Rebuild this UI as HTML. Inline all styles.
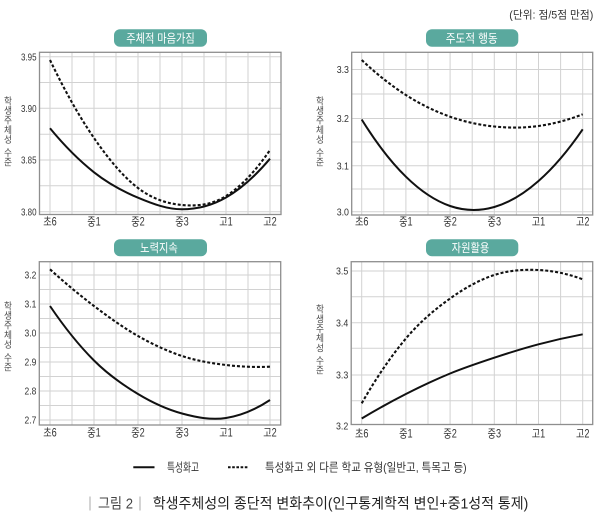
<!DOCTYPE html>
<html>
<head>
<meta charset="utf-8">
<style>
  html,body{margin:0;padding:0;background:#fff;}
  svg{display:block;}
  text{font-family:"Liberation Sans","Noto Sans CJK KR",sans-serif;}
</style>
</head>
<body>
<svg width="600" height="527" viewBox="0 0 600 527" xmlns="http://www.w3.org/2000/svg">
  <rect width="600" height="527" fill="#fff"/>

  <!-- unit -->
  <text x="509.3" y="18.5" font-size="11" fill="#333" textLength="84" lengthAdjust="spacingAndGlyphs">(단위: 점/5점 만점)</text>

  <!-- ============ PANEL 1 ============ -->
  <g stroke="#d2d2d2" stroke-width="1" fill="none">
    <path d="M40,56.7H281M40,82.5H281M40,108.3H281M40,134.2H281M40,160H281M40,185.8H281M40,211.7H281"/>
    <path d="M50,52.3V214.5M72,52.3V214.5M94,52.3V214.5M116,52.3V214.5M138,52.3V214.5M160,52.3V214.5M182,52.3V214.5M204,52.3V214.5M226,52.3V214.5M248,52.3V214.5M270,52.3V214.5"/>
  </g>
  <rect x="39.5" y="52.3" width="241.5" height="162.2" fill="none" stroke="#8e8e8e" stroke-width="1.3"/>
  <path d="M50,128.3 C64.67,146.07 79.33,160.73 94,172.3 C108.67,183.87 123.33,191.53 138,197.7 C152.67,203.87 167.33,209.33 182,209.3 C196.67,209.27 211.33,205.93 226,197.5 C240.67,189.07 255.33,176.13 270,158.7" fill="none" stroke="#111" stroke-width="2"/>
  <path d="M50,60 C64.67,90.67 79.33,116.67 94,138 C108.67,159.33 123.33,176.83 138,188 C152.67,199.17 167.33,203.67 182,205 C196.67,206.33 211.33,205.17 226,196 C240.67,186.83 255.33,171.5 270,150" fill="none" stroke="#111" stroke-width="2.1" stroke-dasharray="3 2"/>
  <g font-size="10.5" fill="#333">
    <text x="21" y="60.4" textLength="15.5" lengthAdjust="spacingAndGlyphs">3.95</text>
    <text x="21" y="112" textLength="15.5" lengthAdjust="spacingAndGlyphs">3.90</text>
    <text x="21" y="163.7" textLength="15.5" lengthAdjust="spacingAndGlyphs">3.85</text>
    <text x="21" y="215.4" textLength="15.5" lengthAdjust="spacingAndGlyphs">3.80</text>
  </g>
  <g font-size="11.5" fill="#333" text-anchor="middle">
    <text x="50" y="225.5" textLength="13.5" lengthAdjust="spacingAndGlyphs">초6</text>
    <text x="94" y="225.5" textLength="13.5" lengthAdjust="spacingAndGlyphs">중1</text>
    <text x="138" y="225.5" textLength="13.5" lengthAdjust="spacingAndGlyphs">중2</text>
    <text x="182" y="225.5" textLength="13.5" lengthAdjust="spacingAndGlyphs">중3</text>
    <text x="226" y="225.5" textLength="13.5" lengthAdjust="spacingAndGlyphs">고1</text>
    <text x="270" y="225.5" textLength="13.5" lengthAdjust="spacingAndGlyphs">고2</text>
  </g>
  <g font-size="9.8" fill="#4a4a4a" text-anchor="middle">
    <text x="8" y="104.3" textLength="8" lengthAdjust="spacingAndGlyphs">학</text>
    <text x="8" y="114" textLength="8" lengthAdjust="spacingAndGlyphs">생</text>
    <text x="8" y="123.7" textLength="8" lengthAdjust="spacingAndGlyphs">주</text>
    <text x="8" y="133.4" textLength="8" lengthAdjust="spacingAndGlyphs">체</text>
    <text x="8" y="143.1" textLength="8" lengthAdjust="spacingAndGlyphs">성</text>
    <text x="8" y="155.8" textLength="8" lengthAdjust="spacingAndGlyphs">수</text>
    <text x="8" y="165.3" textLength="8" lengthAdjust="spacingAndGlyphs">준</text>
  </g>
  <rect x="114" y="29.3" width="93" height="17.4" rx="6" fill="#5aa99e"/>
  <text x="160.5" y="42.4" font-size="12" fill="#fff" text-anchor="middle" textLength="68.5" lengthAdjust="spacingAndGlyphs">주체적 마음가짐</text>

  <!-- ============ PANEL 2 ============ -->
  <g stroke="#d2d2d2" stroke-width="1" fill="none">
    <path d="M352,69.5H592.7M352,94H592.7M352,118.5H592.7M352,142H592.7M352,165.7H592.7M352,189H592.7M352,211.7H592.7"/>
    <path d="M361.7,52.3V215M383.8,52.3V215M405.9,52.3V215M428,52.3V215M450.1,52.3V215M472.2,52.3V215M494.3,52.3V215M516.4,52.3V215M538.5,52.3V215M560.6,52.3V215M582.7,52.3V215"/>
  </g>
  <rect x="351.7" y="52.3" width="241" height="162.7" fill="none" stroke="#8e8e8e" stroke-width="1.3"/>
  <path d="M361.7,119.5 C376.43,143.22 391.17,162.28 405.9,176.7 C420.63,191.12 435.37,200.95 450.1,206 C464.83,211.05 479.57,211.17 494.3,207 C509.03,202.83 523.77,193.95 538.5,181 C553.23,168.05 567.97,150.82 582.7,129.3" fill="none" stroke="#111" stroke-width="2"/>
  <path d="M361.7,60 C376.43,73.88 391.17,85.55 405.9,95 C420.63,104.45 435.37,111.45 450.1,116.7 C464.83,121.95 479.57,124.95 494.3,126.5 C509.03,128.05 523.77,128.03 538.5,126 C553.23,123.97 567.97,120.07 582.7,114.3" fill="none" stroke="#111" stroke-width="2.1" stroke-dasharray="3 2"/>
  <g font-size="10.5" fill="#333">
    <text x="336.7" y="73.2" textLength="12.3" lengthAdjust="spacingAndGlyphs">3.3</text>
    <text x="336.7" y="122.2" textLength="12.3" lengthAdjust="spacingAndGlyphs">3.2</text>
    <text x="336.7" y="169.4" textLength="12.3" lengthAdjust="spacingAndGlyphs">3.1</text>
    <text x="336.7" y="215.4" textLength="12.3" lengthAdjust="spacingAndGlyphs">3.0</text>
  </g>
  <g font-size="11.5" fill="#333" text-anchor="middle">
    <text x="361.7" y="225.5" textLength="13.5" lengthAdjust="spacingAndGlyphs">초6</text>
    <text x="405.9" y="225.5" textLength="13.5" lengthAdjust="spacingAndGlyphs">중1</text>
    <text x="450.1" y="225.5" textLength="13.5" lengthAdjust="spacingAndGlyphs">중2</text>
    <text x="494.3" y="225.5" textLength="13.5" lengthAdjust="spacingAndGlyphs">중3</text>
    <text x="538.5" y="225.5" textLength="13.5" lengthAdjust="spacingAndGlyphs">고1</text>
    <text x="582.7" y="225.5" textLength="13.5" lengthAdjust="spacingAndGlyphs">고2</text>
  </g>
  <g font-size="9.8" fill="#4a4a4a" text-anchor="middle">
    <text x="320" y="104.3" textLength="8" lengthAdjust="spacingAndGlyphs">학</text>
    <text x="320" y="114" textLength="8" lengthAdjust="spacingAndGlyphs">생</text>
    <text x="320" y="123.7" textLength="8" lengthAdjust="spacingAndGlyphs">주</text>
    <text x="320" y="133.4" textLength="8" lengthAdjust="spacingAndGlyphs">체</text>
    <text x="320" y="143.1" textLength="8" lengthAdjust="spacingAndGlyphs">성</text>
    <text x="320" y="155.8" textLength="8" lengthAdjust="spacingAndGlyphs">수</text>
    <text x="320" y="165.3" textLength="8" lengthAdjust="spacingAndGlyphs">준</text>
  </g>
  <rect x="426" y="29.3" width="92.3" height="17.4" rx="6" fill="#5aa99e"/>
  <text x="471.7" y="42.4" font-size="12" fill="#fff" text-anchor="middle" textLength="52" lengthAdjust="spacingAndGlyphs">주도적 행동</text>

  <!-- ============ PANEL 3 ============ -->
  <g stroke="#d2d2d2" stroke-width="1" fill="none">
    <path d="M40,275H280.7M40,289.5H280.7M40,304H280.7M40,318.5H280.7M40,333H280.7M40,347.5H280.7M40,362H280.7M40,376.5H280.7M40,391H280.7M40,405.5H280.7M40,420H280.7"/>
    <path d="M50,261.7V425M72,261.7V425M94,261.7V425M116,261.7V425M138,261.7V425M160,261.7V425M182,261.7V425M204,261.7V425M226,261.7V425M248,261.7V425M270,261.7V425"/>
  </g>
  <rect x="39.3" y="261.7" width="241.4" height="163.3" fill="none" stroke="#8e8e8e" stroke-width="1.3"/>
  <path d="M50,306 C64.67,327.67 79.33,345.83 94,360.5 C108.67,375.17 123.33,385.17 138,394 C152.67,402.83 167.33,409.5 182,413.5 C196.67,417.5 211.33,420.25 226,418 C240.67,415.75 255.33,409.75 270,400" fill="none" stroke="#111" stroke-width="2"/>
  <path d="M50,269.3 C64.67,282.65 79.33,294.88 94,306 C108.67,317.12 123.33,327.67 138,336 C152.67,344.33 167.33,351.17 182,356 C196.67,360.83 211.33,363.22 226,365 C240.67,366.78 255.33,367.35 270,366.7" fill="none" stroke="#111" stroke-width="2.1" stroke-dasharray="3 2"/>
  <g font-size="10.5" fill="#333">
    <text x="24.5" y="278.7" textLength="11.8" lengthAdjust="spacingAndGlyphs">3.2</text>
    <text x="24.5" y="307.7" textLength="11.8" lengthAdjust="spacingAndGlyphs">3.1</text>
    <text x="24.5" y="336.7" textLength="11.8" lengthAdjust="spacingAndGlyphs">3.0</text>
    <text x="24.5" y="365.7" textLength="11.8" lengthAdjust="spacingAndGlyphs">2.9</text>
    <text x="24.5" y="394.7" textLength="11.8" lengthAdjust="spacingAndGlyphs">2.8</text>
    <text x="24.5" y="423.7" textLength="11.8" lengthAdjust="spacingAndGlyphs">2.7</text>
  </g>
  <g font-size="11.5" fill="#333" text-anchor="middle">
    <text x="50" y="436.5" textLength="13.5" lengthAdjust="spacingAndGlyphs">초6</text>
    <text x="94" y="436.5" textLength="13.5" lengthAdjust="spacingAndGlyphs">중1</text>
    <text x="138" y="436.5" textLength="13.5" lengthAdjust="spacingAndGlyphs">중2</text>
    <text x="182" y="436.5" textLength="13.5" lengthAdjust="spacingAndGlyphs">중3</text>
    <text x="226" y="436.5" textLength="13.5" lengthAdjust="spacingAndGlyphs">고1</text>
    <text x="270" y="436.5" textLength="13.5" lengthAdjust="spacingAndGlyphs">고2</text>
  </g>
  <g font-size="9.8" fill="#4a4a4a" text-anchor="middle">
    <text x="8" y="309.3" textLength="8" lengthAdjust="spacingAndGlyphs">학</text>
    <text x="8" y="319" textLength="8" lengthAdjust="spacingAndGlyphs">생</text>
    <text x="8" y="328.7" textLength="8" lengthAdjust="spacingAndGlyphs">주</text>
    <text x="8" y="338.4" textLength="8" lengthAdjust="spacingAndGlyphs">체</text>
    <text x="8" y="348.1" textLength="8" lengthAdjust="spacingAndGlyphs">성</text>
    <text x="8" y="360.8" textLength="8" lengthAdjust="spacingAndGlyphs">수</text>
    <text x="8" y="370.3" textLength="8" lengthAdjust="spacingAndGlyphs">준</text>
  </g>
  <rect x="114" y="239.3" width="93" height="17" rx="6" fill="#5aa99e"/>
  <text x="159" y="252" font-size="12" fill="#fff" text-anchor="middle" textLength="37.7" lengthAdjust="spacingAndGlyphs">노력지속</text>

  <!-- ============ PANEL 4 ============ -->
  <g stroke="#d2d2d2" stroke-width="1" fill="none">
    <path d="M351.7,271H592.7M351.7,296.7H592.7M351.7,322.7H592.7M351.7,348.3H592.7M351.7,375H592.7M351.7,400.7H592.7"/>
    <path d="M361.7,261.7V424.5M383.8,261.7V424.5M405.9,261.7V424.5M428,261.7V424.5M450.1,261.7V424.5M472.2,261.7V424.5M494.3,261.7V424.5M516.4,261.7V424.5M538.5,261.7V424.5M560.6,261.7V424.5M582.7,261.7V424.5"/>
  </g>
  <rect x="351.2" y="261.7" width="241.5" height="162.8" fill="none" stroke="#8e8e8e" stroke-width="1.3"/>
  <path d="M361.7,418.5 C376.43,409.67 391.17,401.5 405.9,394 C420.63,386.5 435.37,379.55 450.1,373.5 C464.83,367.45 479.57,362.57 494.3,357.7 C509.03,352.83 523.77,348.2 538.5,344.3 C553.23,340.4 567.97,337.07 582.7,334.3" fill="none" stroke="#111" stroke-width="2"/>
  <path d="M361.7,403.3 C376.43,377.57 391.17,355.97 405.9,338.5 C420.63,321.03 435.37,309.08 450.1,298.5 C464.83,287.92 479.57,279.75 494.3,275 C509.03,270.25 523.77,269.28 538.5,270 C553.23,270.72 567.97,273.82 582.7,279.3" fill="none" stroke="#111" stroke-width="2.1" stroke-dasharray="3 2"/>
  <g font-size="10.5" fill="#333">
    <text x="336" y="274.7" textLength="12.3" lengthAdjust="spacingAndGlyphs">3.5</text>
    <text x="336" y="326.4" textLength="12.3" lengthAdjust="spacingAndGlyphs">3.4</text>
    <text x="336" y="378.7" textLength="12.3" lengthAdjust="spacingAndGlyphs">3.3</text>
    <text x="336" y="429.4" textLength="12.3" lengthAdjust="spacingAndGlyphs">3.2</text>
  </g>
  <g font-size="11.5" fill="#333" text-anchor="middle">
    <text x="361.7" y="437.5" textLength="13.5" lengthAdjust="spacingAndGlyphs">초6</text>
    <text x="405.9" y="437.5" textLength="13.5" lengthAdjust="spacingAndGlyphs">중1</text>
    <text x="450.1" y="437.5" textLength="13.5" lengthAdjust="spacingAndGlyphs">중2</text>
    <text x="494.3" y="437.5" textLength="13.5" lengthAdjust="spacingAndGlyphs">중3</text>
    <text x="538.5" y="437.5" textLength="13.5" lengthAdjust="spacingAndGlyphs">고1</text>
    <text x="582.7" y="437.5" textLength="13.5" lengthAdjust="spacingAndGlyphs">고2</text>
  </g>
  <g font-size="9.8" fill="#4a4a4a" text-anchor="middle">
    <text x="320" y="312.6" textLength="8" lengthAdjust="spacingAndGlyphs">학</text>
    <text x="320" y="322.3" textLength="8" lengthAdjust="spacingAndGlyphs">생</text>
    <text x="320" y="332" textLength="8" lengthAdjust="spacingAndGlyphs">주</text>
    <text x="320" y="341.7" textLength="8" lengthAdjust="spacingAndGlyphs">체</text>
    <text x="320" y="351.4" textLength="8" lengthAdjust="spacingAndGlyphs">성</text>
    <text x="320" y="364.1" textLength="8" lengthAdjust="spacingAndGlyphs">수</text>
    <text x="320" y="373.6" textLength="8" lengthAdjust="spacingAndGlyphs">준</text>
  </g>
  <rect x="426" y="239.3" width="92.3" height="17" rx="6" fill="#5aa99e"/>
  <text x="470.5" y="252" font-size="12" fill="#fff" text-anchor="middle" textLength="37.7" lengthAdjust="spacingAndGlyphs">자원활용</text>

  <!-- ============ LEGEND ============ -->
  <line x1="133.3" y1="467.3" x2="154.5" y2="467.3" stroke="#111" stroke-width="2"/>
  <text x="167" y="471.6" font-size="12" fill="#333" textLength="32" lengthAdjust="spacingAndGlyphs">특성화고</text>
  <line x1="228" y1="467.3" x2="249" y2="467.3" stroke="#111" stroke-width="2" stroke-dasharray="2.6 1.6"/>
  <text x="265" y="471.6" font-size="12" fill="#333" textLength="201.7" lengthAdjust="spacingAndGlyphs">특성화고 외 다른 학교 유형(일반고, 특목고 등)</text>

  <!-- ============ CAPTION ============ -->
  <line x1="90" y1="496.5" x2="90" y2="510.5" stroke="#aaa" stroke-width="1"/>
  <text x="98" y="508.5" font-size="14.5" fill="#444" textLength="35" lengthAdjust="spacingAndGlyphs">그림 2</text>
  <line x1="140" y1="496.5" x2="140" y2="510.5" stroke="#aaa" stroke-width="1"/>
  <text x="152.7" y="508.5" font-size="14.5" fill="#222" textLength="375.6" lengthAdjust="spacingAndGlyphs">학생주체성의 종단적 변화추이(인구통계학적 변인+중1성적 통제)</text>
</svg>
</body>
</html>
